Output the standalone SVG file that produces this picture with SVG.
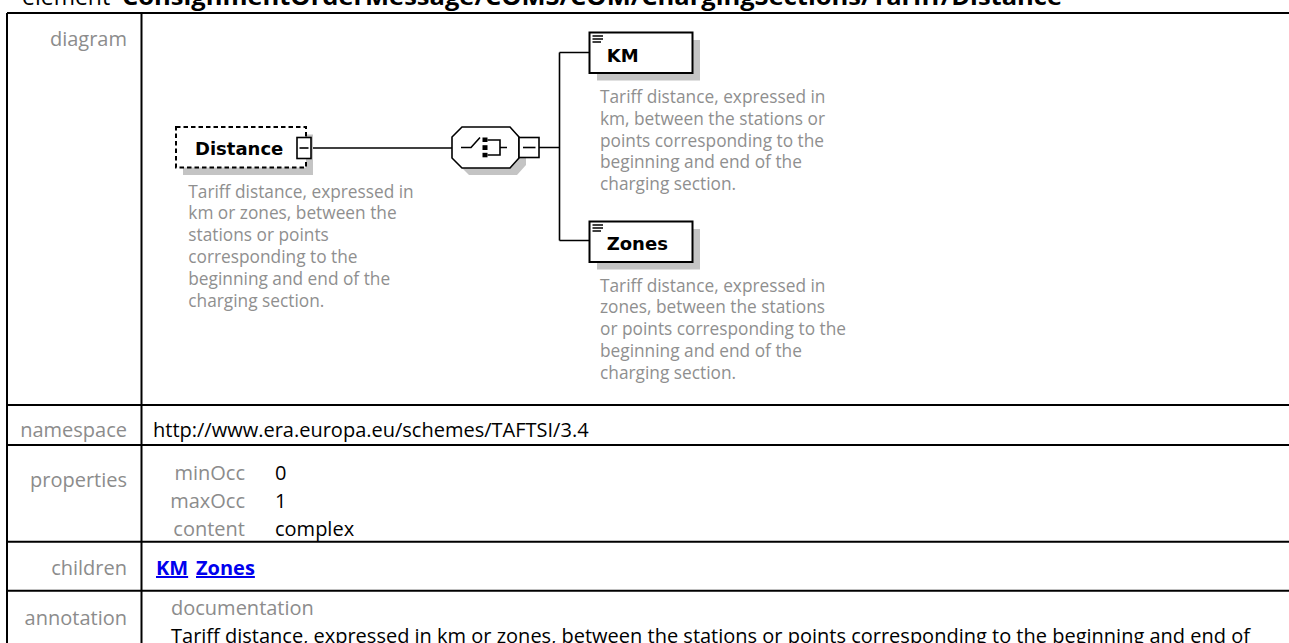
<svg xmlns="http://www.w3.org/2000/svg" width="1289" height="643" viewBox="0 0 1289 643">
<style>
.lbl{font-family:"Open Sans",sans-serif;font-size:20px;fill:#8c8c8c}
.val{font-family:"Open Sans",sans-serif;font-size:20px;fill:#000}
.desc{font-family:"Open Sans",sans-serif;font-size:17.3px;fill:#8f8f8f}
.name{font-family:"DejaVu Sans",sans-serif;font-weight:bold;font-size:18px;fill:#000}
.grid{stroke:#000;stroke-width:2;fill:none}
.shadow{fill:#c4c4c4}
.box{fill:#fff;stroke:#000;stroke-width:2}
.conn{stroke:#000;stroke-width:1.6;fill:none}
.icon{stroke:#000;stroke-width:1.6;fill:none}
.link{font-family:"Open Sans",sans-serif;font-size:20px;font-weight:bold;fill:#0000ee;text-decoration:underline}
</style>
<rect width="1289" height="643" fill="#fff"/>
<g id="title">
<text x="22" y="4.5" font-family="Open Sans, sans-serif" font-size="23" fill="#000">element</text>
<text x="122" y="4.5" font-family="Open Sans, sans-serif" font-size="23" font-weight="bold" fill="#000" textLength="940" lengthAdjust="spacingAndGlyphs">ConsignmentOrderMessage/COMS/COM/ChargingSections/Tariff/Distance</text>
</g>
<g id="table">
<path class="grid" d="M7 13 H1300 M7 13 V660 M141.5 13 V660 M7 405 H1300 M7 445 H1300 M7 541.7 H1300 M7 590.7 H1300"/>
<text class="lbl" x="127" y="45.5" text-anchor="end">diagram</text>
<text class="lbl" x="127" y="437" text-anchor="end">namespace</text>
<text class="val" x="153" y="437">http://www.era.europa.eu/schemes/TAFTSI/3.4</text>
<text class="lbl" x="127" y="487" text-anchor="end">properties</text>
<text class="lbl" x="245" y="479.5" text-anchor="end">minOcc</text>
<text class="val" x="275" y="479.5">0</text>
<text class="lbl" x="245" y="507.7" text-anchor="end">maxOcc</text>
<text class="val" x="275" y="507.7">1</text>
<text class="lbl" x="245" y="535.9" text-anchor="end">content</text>
<text class="val" x="275" y="535.9">complex</text>
<text class="lbl" x="127" y="575" text-anchor="end">children</text>
<text class="link" x="156" y="575">KM</text>
<text class="link" x="196" y="575">Zones</text>
<text class="lbl" x="127" y="625" text-anchor="end">annotation</text>
<text class="lbl" x="171" y="615">documentation</text>
<text class="val" x="171" y="642.6">Tariff distance, expressed in km or zones, between the stations or points corresponding to the beginning and end of</text>
</g>
<g id="connectors">
<path class="conn" d="M311 148 H452"/>
<path class="conn" d="M539 147.5 H559.5 M559.5 52.5 V240.5 M559.5 52.5 H589.5 M559.5 240.5 H589.5"/>
</g>
<g id="node-Distance">
<rect class="shadow" x="183" y="134.5" width="130" height="40.5"/>
<rect x="176" y="127" width="130" height="40.5" fill="#fff" stroke="#000" stroke-width="2" stroke-dasharray="4.5 3"/>
<text class="name" x="195" y="155">Distance</text>
<rect x="297" y="137.5" width="14" height="21" fill="#fff" stroke="#000" stroke-width="1.6"/>
<path class="icon" d="M299.5 148 H308.5"/>
<text class="desc" x="188.3" y="197.5">Tariff distance, expressed in</text>
<text class="desc" x="188.3" y="219.3">km or zones, between the</text>
<text class="desc" x="188.3" y="241.1">stations or points</text>
<text class="desc" x="188.3" y="262.9">corresponding to the</text>
<text class="desc" x="188.3" y="284.7">beginning and end of the</text>
<text class="desc" x="188.3" y="306.5">charging section.</text>
</g>
<g id="node-sequence">
<polygon class="shadow" points="469,134 517,134 526,144 526,165 517,175 469,175 459,165 459,144"/>
<polygon points="462,127 510,127 519,137 519,158 510,168 462,168 452,158 452,137" fill="#fff" stroke="#000" stroke-width="1.6"/>
<path class="icon" d="M461 147.5 H471 L480 137.5 M487.5 140 H500 V155 H487.5 M500 147.5 H507"/>
<rect x="482.5" y="137.5" width="5" height="4.5" fill="#000"/>
<rect x="482.5" y="145.2" width="5" height="4.8" fill="#000"/>
<rect x="482.5" y="152.8" width="5" height="4.5" fill="#000"/>
<rect x="519" y="137.5" width="20" height="20" fill="#fff" stroke="#000" stroke-width="1.6"/>
<path class="icon" d="M523 147.5 H535.5"/>
</g>
<g id="node-KM">
<rect class="shadow" x="597" y="40" width="103" height="40.5"/>
<rect class="box" x="589.5" y="32.5" width="103" height="40.5"/>
<path class="icon" d="M592.5 36 H603 M592.5 39 H603 M592.5 42 H601"/>
<text class="name" x="606.7" y="61.5">KM</text>
<text class="desc" x="600" y="103.3">Tariff distance, expressed in</text>
<text class="desc" x="600" y="125">km, between the stations or</text>
<text class="desc" x="600" y="146.7">points corresponding to the</text>
<text class="desc" x="600" y="168.4">beginning and end of the</text>
<text class="desc" x="600" y="190.1">charging section.</text>
</g>
<g id="node-Zones">
<rect class="shadow" x="597" y="229" width="103" height="40.5"/>
<rect class="box" x="589.5" y="221.5" width="103" height="40.5"/>
<path class="icon" d="M592.5 225 H603 M592.5 228 H603 M592.5 231 H601"/>
<text class="name" x="606.7" y="249.7">Zones</text>
<text class="desc" x="600" y="291.7">Tariff distance, expressed in</text>
<text class="desc" x="600" y="313.4">zones, between the stations</text>
<text class="desc" x="600" y="335.1">or points corresponding to the</text>
<text class="desc" x="600" y="356.8">beginning and end of the</text>
<text class="desc" x="600" y="378.5">charging section.</text>
</g>
</svg>
